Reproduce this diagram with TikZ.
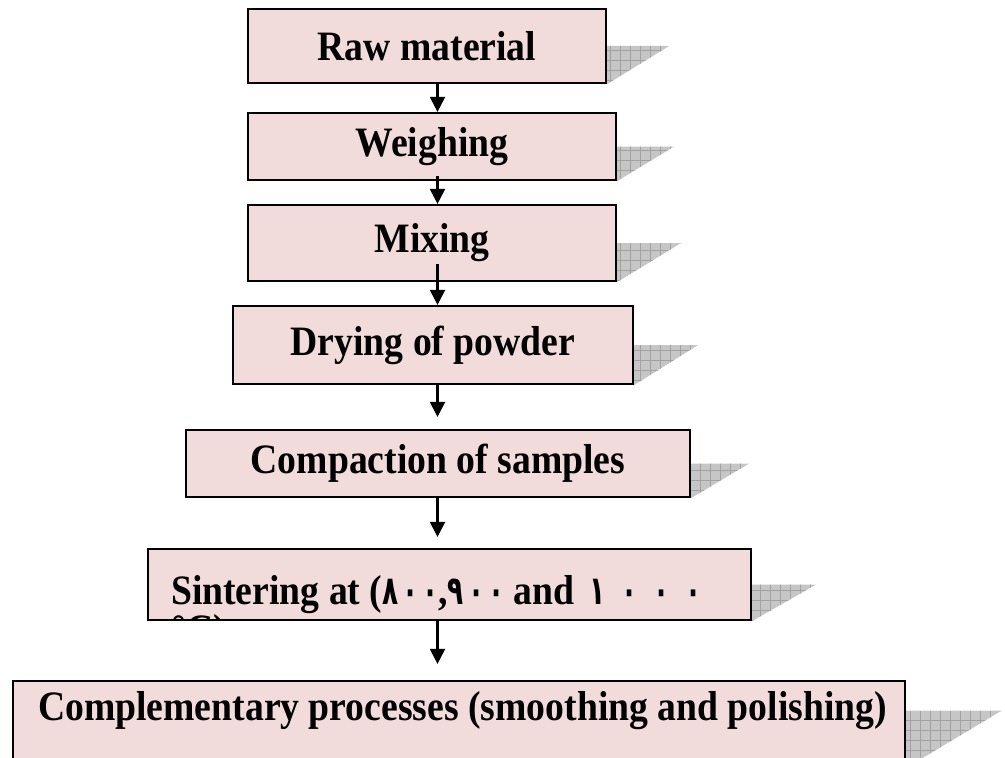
\documentclass[tikz,border=0pt]{standalone}
\usepackage{fontspec}
\setmainfont[FakeStretch=0.9]{Liberation Serif}
\newfontfamily\arabicfont[Script=Arabic, FakeStretch=0.66]{DejaVu Sans}
\usetikzlibrary{arrows.meta}
\definecolor{boxpink}{HTML}{F2DCDB}
\definecolor{shadefill}{HTML}{C6C6C6}
\definecolor{shadeline}{HTML}{A2A2A2}
\newcommand\ardig[1]{{\arabicfont\bfseries\fontsize{40}{40}\selectfont #1}}
\tikzset{
  stepbox/.style={draw=black, line width=2.2bp, fill=boxpink, inner sep=0pt,
    font=\bfseries\fontsize{42}{40}\selectfont},
  plaintext/.style={draw=none, fill=none, minimum width=0pt, minimum height=0pt,
    inner sep=0pt, align=left, font=\bfseries\fontsize{42}{40}\selectfont},
  shadetri/.style={fill=shadefill, path picture={
      \draw[shadeline, line width=0.7bp] ([shift={(-20bp,-20bp)}]path picture bounding box.south west)
        grid[step=10bp] ([shift={(20bp,20bp)}]path picture bounding box.north east);}},
  flow/.style={line width=2.2bp, -{Triangle[width=15bp,length=15bp]}}
}
\begin{document}
\begin{tikzpicture}[x=1bp,y=-1bp]
\useasboundingbox (0,0) rectangle (1005,758);
\clip (0,0) rectangle (1005,758);
\coordinate (ax) at (437.5,0);
% boxes
\node[stepbox, minimum width=358bp, minimum height=74bp] (b1) at (427,46) {Raw material};
\node[stepbox, minimum width=368bp, minimum height=67bp] (b2) at (432,146.5) {Weighing};
\node[stepbox, minimum width=368bp, minimum height=76bp] (b3) at (432,243) {Mixing};
\node[stepbox, minimum width=400bp, minimum height=78bp] (b4) at (433,345) {Drying of powder};
\node[stepbox, minimum width=504bp, minimum height=67bp] (b5) at (438,463.5) {Compaction of samples};
\node[stepbox, minimum width=603bp, minimum height=71bp, path picture={
   \node[plaintext, anchor=north west]
     at ([shift={(22,25)}]path picture bounding box.north west)
     {Sintering at (\ardig{٨\hspace{4bp}٠\hspace{4bp}٠},\ardig{٩\hspace{4bp}٠\hspace{4bp}٠} and\hspace{6bp} \ardig{١\hspace{16bp}٠\hspace{16bp}٠\hspace{16bp}٠}\\°C)};}]
   (b6) at (449.5,584.5) {};
\node[stepbox, minimum width=892bp, minimum height=119bp, path picture={
   \node[plaintext, anchor=base west]
     at ([shift={(24,39)}]path picture bounding box.north west)
     {Complementary processes (smoothing and polishing)};}]
   (b7) at (459,740.5) {};
% shadows
\path[shadetri] (b1.south east) -- (b1.east) -- ++(62,0) -- cycle;
\path[shadetri] (b2.south east) -- (b2.east) -- ++(57,0) -- cycle;
\path[shadetri] (b3.south east) -- (b3.east) -- ++(64,0) -- cycle;
\path[shadetri] (b4.south east) -- (b4.east) -- ++(64,0) -- cycle;
\path[shadetri] (b5.south east) -- (b5.east) -- ++(58,0) -- cycle;
\path[shadetri] (b6.south east) -- (b6.east) -- ++(64,0) -- cycle;
\path[shadetri] ([shift={(0,88)}]b7.north east) -- ([shift={(0,31)}]b7.north east) -- ++(95,0) -- cycle;
% connectors
\draw[flow] (b1.south -| ax) -- (b2.north -| ax);
\draw[flow, shorten <=-5bp] (b2.south -| ax) -- (b3.north -| ax);
\draw[flow, shorten <=-18bp] (b3.south -| ax) -- (b4.north -| ax);
\draw[flow, shorten >=12bp] (b4.south -| ax) -- (b5.north -| ax);
\draw[flow, shorten >=11bp] (b5.south -| ax) -- (b6.north -| ax);
\draw[flow, shorten >=16bp] (b6.south -| ax) -- (b7.north -| ax);
\end{tikzpicture}
\end{document}
